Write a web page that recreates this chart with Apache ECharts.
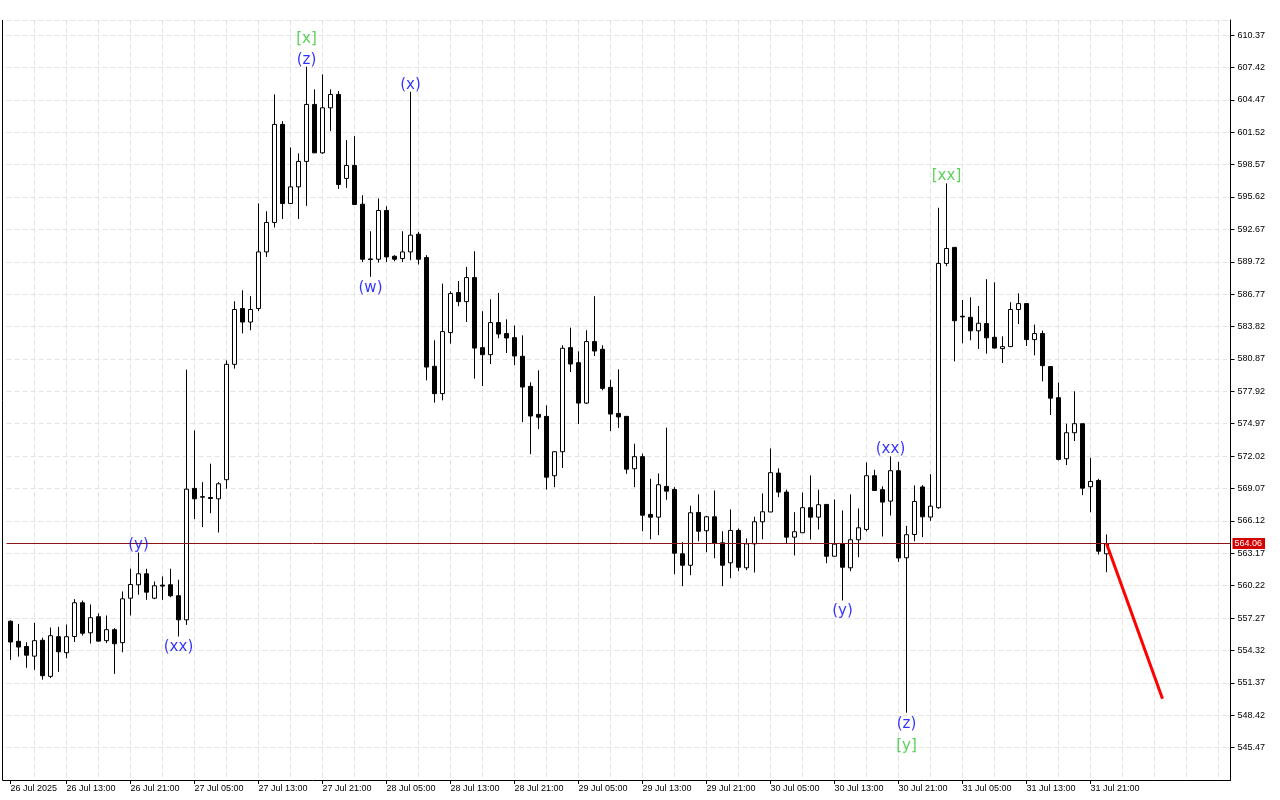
<!DOCTYPE html>
<html><head><meta charset="utf-8">
<script src="https://cdn.jsdelivr.net/npm/echarts@6/dist/echarts.min.js"></script>
<style>html,body{margin:0;padding:0;background:#fff}#c{width:1280px;height:800px}</style>
</head><body><div id="c"></div>
<script>
// OHLC (hourly bars from 26 Jul 2025 06:00)
const opens = [556.98,555.15,554.68,553.80,555.24,551.96,555.57,554.11,555.59,558.66,555.93,557.39,555.21,556.21,555.03,559.08,560.30,561.30,559.08,560.27,
560.30,559.30,557.11,569.08,568.32,568.25,568.13,569.87,580.38,585.46,584.23,585.46,590.62,593.30,602.23,595.03,596.54,598.86,604.05,599.64,
603.74,604.96,597.31,598.49,594.96,589.98,589.95,594.39,590.22,590.01,590.62,592.23,590.10,580.20,577.71,583.27,586.91,586.09,588.28,581.90,
581.26,584.18,583.18,582.81,581.11,578.37,575.82,575.64,570.23,572.42,581.90,580.53,576.85,582.45,581.75,578.28,575.91,575.64,570.87,571.97,
566.71,566.46,569.26,568.98,563.12,562.08,566.89,565.22,566.49,564.12,562.30,565.25,561.85,564.03,566.04,566.93,570.47,568.74,564.64,565.04,
567.32,566.46,567.62,562.90,564.03,561.85,564.40,565.34,570.23,568.96,567.92,570.69,562.76,564.88,569.21,566.47,567.32,589.57,591.03,584.76,
584.66,583.43,584.09,582.84,581.81,581.99,585.37,585.91,582.63,583.18,580.17,577.34,571.78,574.15,574.97,569.23,569.80,563.12];
const closes = [555.09,554.63,553.89,555.21,552.02,555.66,554.20,555.57,558.66,555.89,557.30,555.17,556.21,554.93,559.02,560.33,561.30,559.63,560.21,560.18,
559.30,557.11,569.01,568.13,568.28,568.16,569.50,580.38,585.37,584.23,585.37,590.62,593.30,602.23,595.03,596.54,598.86,604.05,599.64,603.74,
604.96,596.76,598.49,594.94,589.95,589.92,594.39,590.16,589.95,590.62,592.14,589.95,580.13,577.71,583.36,586.82,586.09,588.28,581.86,581.26,
584.18,583.14,582.78,581.14,578.31,575.67,575.57,570.10,572.42,581.84,580.41,576.85,582.45,581.59,578.19,575.85,575.59,570.83,571.97,566.64,
566.46,569.41,568.83,563.18,562.08,566.86,565.18,566.49,564.09,562.08,565.25,561.90,564.03,566.04,566.95,570.51,568.74,564.64,565.13,567.32,
566.46,567.59,562.90,564.00,561.90,564.40,565.49,570.23,568.89,567.83,570.69,562.74,564.86,567.89,566.49,567.46,589.57,590.93,584.35,584.70,
583.43,584.12,582.79,581.86,581.99,585.37,585.91,582.63,583.18,580.26,577.30,571.72,574.15,574.97,569.10,569.71,563.36,564.06];
const lows = [553.46,553.76,552.74,552.56,551.66,551.80,552.37,553.60,555.09,555.68,554.95,555.09,554.99,552.19,554.15,557.50,559.39,558.93,558.99,558.93,
559.17,555.59,556.65,566.28,565.55,566.82,565.06,569.05,579.99,583.20,583.48,585.24,590.16,592.84,593.62,595.03,593.62,594.81,599.64,599.55,
601.62,596.36,596.45,594.94,589.70,588.34,589.65,589.70,589.77,589.70,589.86,589.47,578.92,576.89,577.10,582.26,585.67,584.23,579.07,578.40,
580.41,582.75,581.41,580.31,575.12,572.20,574.48,568.96,569.19,570.93,579.68,574.94,576.76,581.14,578.01,574.30,574.59,570.41,569.19,565.18,
564.45,564.82,568.04,561.26,560.17,561.17,564.27,563.27,562.72,560.17,560.90,561.54,561.63,561.42,564.45,566.93,568.28,564.03,562.97,565.04,
564.42,565.34,562.27,562.90,558.87,561.54,562.81,565.16,568.89,564.70,566.61,562.39,548.65,564.27,564.64,566.12,567.22,589.32,580.65,582.30,
582.57,581.78,581.36,581.84,580.50,581.99,584.05,582.05,581.20,578.83,575.76,571.63,571.20,573.39,568.46,566.91,563.06,561.45];
const highs = [557.05,556.74,555.06,556.83,555.48,556.41,556.47,556.68,558.99,558.87,558.51,557.69,557.50,556.35,559.69,561.76,563.24,561.76,560.60,561.06,
561.76,560.76,579.90,574.36,569.65,571.33,569.65,580.74,586.12,587.12,586.58,595.03,594.33,604.96,602.53,600.13,599.59,607.48,605.42,606.79,
605.42,605.26,600.80,601.16,595.78,592.50,595.48,594.78,590.32,592.50,605.20,592.44,590.32,582.57,587.73,587.03,587.97,589.25,590.68,585.21,
586.30,586.88,584.48,583.91,583.02,578.74,579.83,576.64,572.42,582.11,583.72,581.56,583.48,586.58,582.11,578.98,579.92,575.64,573.15,572.24,
569.96,570.44,574.61,569.19,564.18,567.50,568.53,566.59,568.89,565.18,567.16,565.43,564.52,566.49,568.62,572.72,570.90,568.96,566.91,568.71,
570.26,568.96,567.62,568.07,567.07,568.53,567.25,571.44,570.78,569.26,571.99,571.49,565.66,569.35,569.38,570.37,594.64,596.86,591.03,586.24,
586.48,585.69,588.13,587.85,582.93,586.03,586.85,585.91,584.00,583.45,580.17,578.71,574.97,577.92,574.97,571.87,569.95,564.88];

const futureBars = 15;
const lastPrice = 564.06;
const forecastIdx = [137, 144];
const forecastPrice = [564.06, 549.93];
const waveIdx  = [16, 21, 37, 37, 45, 50, 104, 110, 112, 112, 117];
const waveText = ['(y)','(xx)','(z)','[x]','(w)','(x)','(y)','(xx)','(z)','[y]','[xx]'];
const waveSide = ['high','low','high','high','low','high','low','high','low','low','high'];

const months = ['Jan','Feb','Mar','Apr','May','Jun','Jul','Aug','Sep','Oct','Nov','Dec'];
const nBars = opens.length + futureBars;
const categories = [];
for (let i = 0; i < nBars; i++) {
  const d = new Date(Date.UTC(2025, 6, 26, 6 + i));
  categories.push(d.getUTCDate() + ' ' + months[d.getUTCMonth()] + ' ' + String(d.getUTCHours()).padStart(2, '0') + ':00');
}
const ohlc = opens.map((o, i) => [o, closes[i], lows[i], highs[i]]);

const BLUE = '#0000ff', GREEN = '#32c832';
const waveData = waveIdx.map((k, j) => {
  const hi = waveSide[j] === 'high';
  let lvl = 0;
  for (let m = 0; m < j; m++) if (waveIdx[m] === k && waveSide[m] === waveSide[j]) lvl++;
  return {
    value: [k, hi ? highs[k] : lows[k]],
    label: {
      show: true, position: hi ? 'top' : 'bottom', distance: hi ? -1 : 3,
      offset: [0, hi ? -21 * lvl : 22 * lvl],
      formatter: waveText[j],
      color: waveText[j][0] === '[' ? GREEN : BLUE
    }
  };
});

const showX = (i) => i <= opens.length - 1 && (i === 0 || i % 8 === 7);

const chart = echarts.init(document.getElementById('c'), null, {renderer: 'canvas'});
chart.setOption({
  animation: false,
  backgroundColor: '#fff',
  grid: {left: 6.5, right: 49.5, top: 20, bottom: 20, containLabel: false},
  xAxis: {
    type: 'category', data: categories, boundaryGap: true,
    axisLine: {show: true, lineStyle: {color: '#000', width: 1}},
    axisTick: {show: true, alignWithLabel: true, interval: (i) => showX(i), length: 4, lineStyle: {color: '#000'}},
    axisLabel: {show: true, interval: (i) => showX(i), align: 'left', margin: 4,
      formatter: (v, i) => i === 0 ? '26 Jul 2025' : v,
      fontFamily: 'Liberation Sans', fontSize: 9, color: '#000'},
    splitLine: {show: true, alignWithLabel: true, interval: (i) => i % 4 === 3,
      lineStyle: {color: '#e3e3e3', type: [5, 3], width: 1}}
  },
  yAxis: {
    type: 'value', position: 'right', scale: true,
    min: 542.52, max: 611.74, interval: 2.95,
    axisLine: {show: true, lineStyle: {color: '#000', width: 1}},
    axisTick: {show: true, length: 4, lineStyle: {color: '#000'}},
    axisLabel: {showMinLabel: false, showMaxLabel: false, margin: 7,
      formatter: (v) => v.toFixed(2), fontFamily: 'Liberation Sans', fontSize: 9, color: '#000'},
    splitLine: {show: true, lineStyle: {color: '#e3e3e3', type: [5, 3], width: 1}}
  },
  graphic: [
    {type: 'line', shape: {x1: 2.5, y1: 20, x2: 2.5, y2: 780.5}, style: {stroke: '#000', lineWidth: 1}, silent: true},
    {type: 'line', shape: {x1: 2.5, y1: 780.5, x2: 7, y2: 780.5}, style: {stroke: '#000', lineWidth: 1}, silent: true}
  ],
  series: [
    {
      type: 'candlestick', data: ohlc, barWidth: 4,
      itemStyle: {color: '#fff', color0: '#000', borderColor: '#000', borderColor0: '#000', borderWidth: 1},
      markLine: {
        silent: true, symbol: 'none', animation: false,
        data: [{yAxis: lastPrice}],
        lineStyle: {color: '#8a1515', width: 1, type: 'solid'},
        label: {show: true, position: 'end', distance: 2, formatter: lastPrice.toFixed(2),
          color: '#fff', backgroundColor: '#d40000', padding: [1, 3, 1, 2],
          fontFamily: 'Liberation Sans', fontSize: 9}
      }
    },
    {
      type: 'line', data: forecastIdx.map((k, i) => [k, forecastPrice[i]]),
      symbol: 'none', lineStyle: {color: '#ff0000', width: 3}, z: 5
    },
    {
      type: 'scatter', data: waveData, symbolSize: 1,
      itemStyle: {color: 'rgba(0,0,0,0)'},
      label: {fontFamily: 'DejaVu Sans', fontSize: 15}, z: 6
    }
  ]
});
</script></body></html>
